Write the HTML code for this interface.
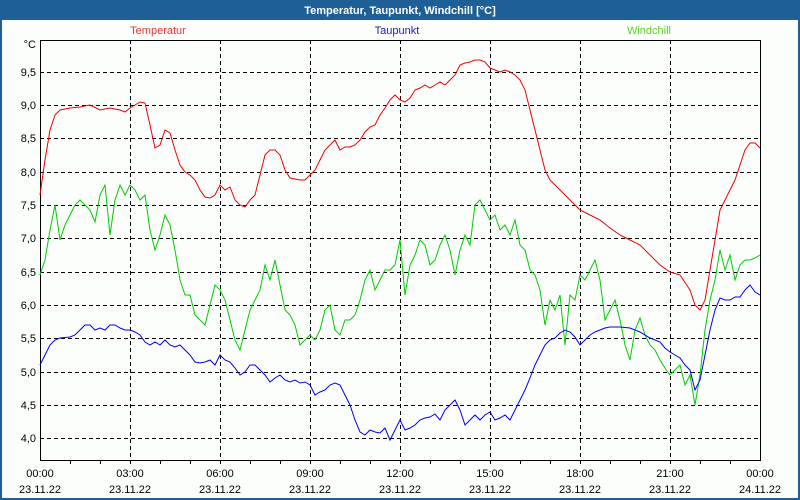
<!DOCTYPE html>
<html><head><meta charset="utf-8"><style>
html,body{margin:0;padding:0;background:#fff}
svg{display:block}
text{font-family:"Liberation Sans","DejaVu Sans",sans-serif;font-size:11px}
</style></head><body>
<svg width="800" height="500" viewBox="0 0 800 500" xmlns="http://www.w3.org/2000/svg">
<rect x="0" y="0" width="800" height="500" fill="#fcfefc"/>
<rect x="1" y="1" width="798" height="498" fill="none" stroke="#1d5f96" stroke-width="2"/>
<rect x="0" y="0" width="800" height="20" fill="#1d5f96"/>
<text x="400" y="14" text-anchor="middle" fill="#fff" font-weight="bold" style="font-size:11px">Temperatur, Taupunkt, Windchill [°C]</text>
<text x="158" y="34" text-anchor="middle" fill="#f03030">Temperatur</text>
<text x="397" y="34" text-anchor="middle" fill="#2020c0">Taupunkt</text>
<text x="649" y="34" text-anchor="middle" fill="#60d020">Windchill</text>
<text x="36" y="48" text-anchor="end" fill="#000">°C</text>
<g stroke="#000" stroke-width="1" stroke-dasharray="4,3" fill="none">
<line x1="40" y1="72.5" x2="760" y2="72.5"/><line x1="40" y1="105.5" x2="760" y2="105.5"/>
<line x1="40" y1="138.5" x2="760" y2="138.5"/><line x1="40" y1="172.5" x2="760" y2="172.5"/>
<line x1="40" y1="205.5" x2="760" y2="205.5"/><line x1="40" y1="238.5" x2="760" y2="238.5"/>
<line x1="40" y1="272.5" x2="760" y2="272.5"/><line x1="40" y1="305.5" x2="760" y2="305.5"/>
<line x1="40" y1="338.5" x2="760" y2="338.5"/><line x1="40" y1="372.5" x2="760" y2="372.5"/>
<line x1="40" y1="405.5" x2="760" y2="405.5"/><line x1="40" y1="438.5" x2="760" y2="438.5"/>
<line x1="130.5" y1="40" x2="130.5" y2="460"/><line x1="220.5" y1="40" x2="220.5" y2="460"/>
<line x1="310.5" y1="40" x2="310.5" y2="460"/><line x1="400.5" y1="40" x2="400.5" y2="460"/>
<line x1="490.5" y1="40" x2="490.5" y2="460"/><line x1="580.5" y1="40" x2="580.5" y2="460"/>
<line x1="670.5" y1="40" x2="670.5" y2="460"/>
</g>
<rect x="40.5" y="40.5" width="720" height="420" fill="none" stroke="#000" stroke-width="1"/>
<g stroke="#000" stroke-width="1">
<line x1="70.5" y1="460" x2="70.5" y2="464"/><line x1="100.5" y1="460" x2="100.5" y2="464"/><line x1="130.5" y1="460" x2="130.5" y2="464"/>
<line x1="160.5" y1="460" x2="160.5" y2="464"/><line x1="190.5" y1="460" x2="190.5" y2="464"/><line x1="220.5" y1="460" x2="220.5" y2="464"/>
<line x1="250.5" y1="460" x2="250.5" y2="464"/><line x1="280.5" y1="460" x2="280.5" y2="464"/><line x1="310.5" y1="460" x2="310.5" y2="464"/>
<line x1="340.5" y1="460" x2="340.5" y2="464"/><line x1="370.5" y1="460" x2="370.5" y2="464"/><line x1="400.5" y1="460" x2="400.5" y2="464"/>
<line x1="430.5" y1="460" x2="430.5" y2="464"/><line x1="460.5" y1="460" x2="460.5" y2="464"/><line x1="490.5" y1="460" x2="490.5" y2="464"/>
<line x1="520.5" y1="460" x2="520.5" y2="464"/><line x1="550.5" y1="460" x2="550.5" y2="464"/><line x1="580.5" y1="460" x2="580.5" y2="464"/>
<line x1="610.5" y1="460" x2="610.5" y2="464"/><line x1="640.5" y1="460" x2="640.5" y2="464"/><line x1="670.5" y1="460" x2="670.5" y2="464"/>
<line x1="700.5" y1="460" x2="700.5" y2="464"/><line x1="730.5" y1="460" x2="730.5" y2="464"/>
</g>
<g text-anchor="end" fill="#000">
<text x="36" y="76">9,5</text><text x="36" y="109">9,0</text><text x="36" y="142">8,5</text>
<text x="36" y="176">8,0</text><text x="36" y="209">7,5</text><text x="36" y="242">7,0</text>
<text x="36" y="276">6,5</text><text x="36" y="309">6,0</text><text x="36" y="342">5,5</text>
<text x="36" y="376">5,0</text><text x="36" y="409">4,5</text><text x="36" y="442">4,0</text>
</g>
<g text-anchor="middle" fill="#000">
<text x="40" y="477">00:00</text><text x="130" y="477">03:00</text><text x="220" y="477">06:00</text>
<text x="310" y="477">09:00</text><text x="400" y="477">12:00</text><text x="490" y="477">15:00</text>
<text x="580" y="477">18:00</text><text x="670" y="477">21:00</text><text x="760" y="477">00:00</text>
<text x="40" y="493">23.11.22</text><text x="130" y="493">23.11.22</text><text x="220" y="493">23.11.22</text>
<text x="310" y="493">23.11.22</text><text x="400" y="493">23.11.22</text><text x="490" y="493">23.11.22</text>
<text x="580" y="493">23.11.22</text><text x="670" y="493">23.11.22</text><text x="760" y="493">24.11.22</text>
</g>
<polyline fill="none" stroke="#00cc00" stroke-width="1" points="40,275 45,260 50,230 55,205 60,240 65,225 70,215 75,205 80,200 85,205 90,210 95,222 100,195 105,185 110,235 115,200 120,185 125,195 130,185 135,190 140,200 145,195 150,230 155,250 160,235 165,215 170,225 175,250 180,280 185,295 190,295 195,315 200,320 205,325 210,305 215,285 220,290 225,300 230,320 235,340 240,350 245,330 250,310 255,300 260,290 265,265 270,280 275,260 280,285 285,310 290,315 295,325 300,345 305,340 310,335 315,340 320,330 325,310 330,305 335,330 340,335 345,320 350,320 355,315 360,300 365,280 370,270 375,290 380,280 385,270 390,270 395,265 400,240 405,295 410,265 415,255 420,240 425,245 430,265 435,260 440,245 445,235 450,250 455,275 460,250 465,235 470,245 475,205 480,200 485,210 490,220 495,215 500,230 505,225 510,235 515,220 520,245 525,250 530,270 535,275 540,290 545,325 550,300 555,310 560,295 565,345 570,295 575,300 580,275 585,280 590,270 595,260 600,280 605,320 610,310 615,300 620,320 625,345 630,360 635,330 640,318 645,335 650,345 655,350 660,360 665,368 670,375 675,370 680,365 685,385 690,375 695,405 700,375 705,330 710,300 715,280 720,250 725,270 730,255 735,280 740,265 745,260 750,260 755,258 760,255"/>
<polyline fill="none" stroke="#0000ee" stroke-width="1" points="40,365 45,355 50,345 55,340 60,338 70,337 75,335 80,330 85,325 90,325 95,330 100,328 105,330 110,325 115,325 120,328 125,330 130,330 135,332 140,335 145,342 150,345 155,342 160,345 165,340 170,345 175,347 180,345 185,350 190,355 195,362 200,363 205,362 210,360 215,365 220,355 225,360 230,362 235,368 240,375 245,372 250,365 255,365 260,370 265,375 270,382 275,378 280,375 285,380 290,382 295,380 300,383 305,382 310,385 315,395 320,392 325,390 330,385 335,383 340,385 345,395 350,405 355,420 360,432 365,435 370,430 375,432 380,433 385,428 390,440 395,430 400,420 405,430 410,428 415,425 420,420 425,418 430,417 435,414 440,420 445,410 450,405 455,400 460,410 465,425 470,420 475,415 480,420 485,415 490,412 495,420 500,418 505,415 510,420 515,410 520,400 525,390 530,378 535,365 540,355 545,345 550,340 555,338 560,333 565,330 570,332 575,337 580,345 585,340 590,335 595,332 600,330 605,328 610,327 620,327 630,328 640,332 650,338 660,342 665,348 670,352 675,355 680,358 685,365 690,370 695,390 700,380 705,355 710,330 715,310 720,298 725,300 730,300 735,297 740,297 745,290 750,285 755,292 760,295"/>
<polyline fill="none" stroke="#ee0000" stroke-width="1" points="40,195 45,160 50,130 55,115 60,110 70,108 80,107 90,105 100,110 110,108 120,110 125,112 130,108 140,102 145,103 150,125 155,148 160,145 165,130 170,133 175,150 180,165 185,172 190,175 195,180 200,190 205,197 210,198 215,195 220,185 225,190 230,187 235,200 240,205 245,207 250,200 255,195 260,175 265,155 270,150 275,150 280,155 285,170 290,178 300,180 305,180 310,175 315,170 320,160 325,150 330,145 335,140 340,150 345,147 350,147 355,145 360,140 365,132 370,127 375,125 380,115 385,108 390,100 395,95 400,100 405,102 410,98 415,90 420,88 425,85 430,88 435,85 440,82 445,85 450,80 455,75 460,65 465,63 470,62 475,60 480,60 485,62 490,68 495,70 500,72 505,70 510,72 515,75 520,80 525,90 530,110 535,130 540,150 545,170 550,180 555,185 560,190 565,195 570,200 575,205 580,210 590,215 600,220 610,228 620,235 630,240 640,245 650,255 660,265 670,272 680,275 690,290 695,305 700,310 705,300 710,270 715,240 720,210 725,200 730,190 735,180 740,165 745,150 750,143 755,143 760,148"/>
</svg>
</body></html>
